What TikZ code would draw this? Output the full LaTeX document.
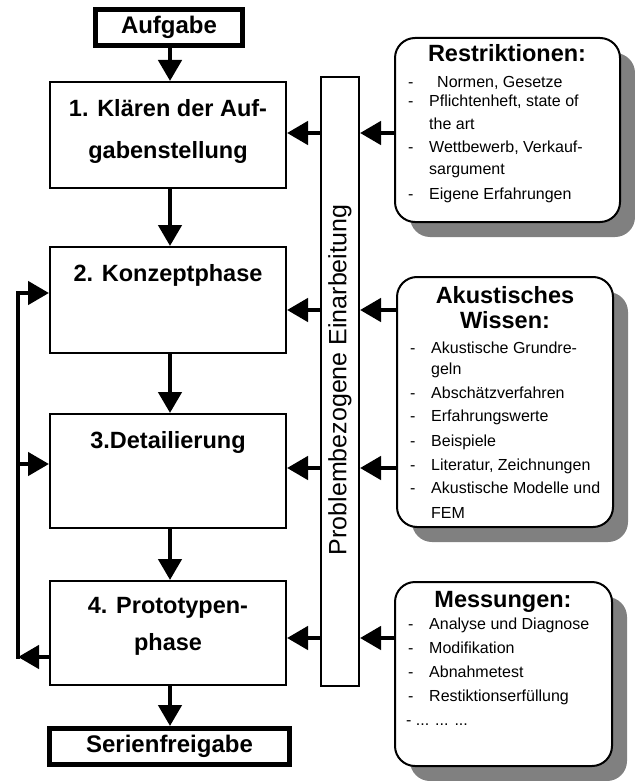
\documentclass[tikz,border=0pt]{standalone}
\usepackage{fontspec}
\setmainfont{Liberation Sans}
\usetikzlibrary{arrows.meta,shadows}
\definecolor{shadowgray}{RGB}{128,128,128}
\newcommand{\itm}[1]{\makebox[21pt][l]{-}#1}
\newcommand{\cnt}[1]{\hspace*{21pt}#1}
\begin{document}
\begin{tikzpicture}[x=1pt,y=-1pt,
  box/.style={draw,line width=2pt,inner sep=0pt},
  endbox/.style={draw,line width=5pt,inner sep=0pt,font=\fontsize{24}{24}\selectfont\bfseries},
  ttl/.style={font=\fontsize{23.5}{42}\selectfont\bfseries,align=center,inner sep=0pt},
  rbox/.style={draw,line width=2pt,rounded corners=20pt,fill=white,inner sep=0pt,
    drop shadow={shadow xshift=15pt,shadow yshift=-15pt,fill=shadowgray,opacity=1}},
  itemtxt/.style={anchor=west,font=\fontsize{16}{16}\selectfont,inner sep=0pt},
  flow/.style={line width=4.5pt,-{Triangle[length=21pt,width=23pt]}},
  plain/.style={line width=4.5pt}]
\useasboundingbox (0,0) rectangle (634,781);

% start / end
\node[endbox,minimum width=147pt,minimum height=36pt] (auf) at (169,27.5) {Aufgabe};
\node[endbox,minimum width=240pt,minimum height=36pt] (ser) at (169.5,746.5) {Serienfreigabe};

% phase boxes
\node[box,minimum width=236pt,minimum height=106pt] (k1) at (168,135) {};
\node[ttl] (t1) at (168,131) {1. Klären der Auf-\\gabenstellung};
\node[box,minimum width=236pt,minimum height=106pt] (k2) at (168,300) {};
\node[ttl] (t2) at (168,275) {2. Konzeptphase};
\node[box,minimum width=236pt,minimum height=114pt] (k3) at (168,471) {};
\node[ttl] (t3) at (168,442) {3.Detailierung};
\node[box,minimum width=236pt,minimum height=104pt] (k4) at (168,633) {};
\node[ttl,font=\fontsize{23.5}{37}\selectfont\bfseries] (t4) at (168,626.5) {4. Prototypen-\\phase};

% vertical bar
\node[box,minimum width=38pt,minimum height=609pt] (bar) at (340,381.5) {};
\node[rotate=90,font=\fontsize{25}{25}\selectfont,inner sep=0pt] (bt) at (340,380) {Problembezogene Einarbeitung};

% right boxes
\node[rbox,minimum width=225pt,minimum height=184pt] (R) at (507.5,130) {};
\node[ttl] (Rt) at (507,53) {Restriktionen:};
\node[itemtxt] (r1) at (408,83) {\itm{\hspace*{8pt}Normen, Gesetze}};
\node[itemtxt] (r2) at (408,102) {\itm{Pflichtenheft, state of}};
\node[itemtxt] (r3) at (408,124) {\cnt{the art}};
\node[itemtxt] (r4) at (408,148) {\itm{Wettbewerb, Verkauf-}};
\node[itemtxt] (r5) at (408,171) {\cnt{sargument}};
\node[itemtxt] (r6) at (408,195) {\itm{Eigene Erfahrungen}};

\node[rbox,minimum width=216pt,minimum height=250pt] (A) at (505,402) {};
\node[ttl,font=\fontsize{23.5}{25}\selectfont\bfseries] (At) at (505,307.5) {Akustisches\\Wissen:};
\node[itemtxt] (a1) at (410,348) {\itm{Akustische Grundre-}};
\node[itemtxt] (a2) at (410,370) {\cnt{geln}};
\node[itemtxt] (a3) at (410,393) {\itm{Abschätzverfahren}};
\node[itemtxt] (a4) at (410,417) {\itm{Erfahrungswerte}};
\node[itemtxt] (a5) at (410,442) {\itm{Beispiele}};
\node[itemtxt] (a6) at (410,466) {\itm{Literatur, Zeichnungen}};
\node[itemtxt] (a7) at (410,488) {\itm{Akustische Modelle und}};
\node[itemtxt] (a8) at (410,513) {\cnt{FEM}};

\node[rbox,minimum width=217pt,minimum height=184pt] (M) at (503.5,674) {};
\node[ttl] (Mt) at (503,602) {Messungen:};
\node[itemtxt] (m1) at (408,625) {\itm{Analyse und Diagnose}};
\node[itemtxt] (m2) at (408,648) {\itm{Modifikation}};
\node[itemtxt] (m3) at (408,672) {\itm{Abnahmetest}};
\node[itemtxt] (m4) at (408,697) {\itm{Restiktionserfüllung}};
\node[itemtxt] (m5) at (406,723) {- ... ... ...};

% main flow (vertical at x = 170)
\coordinate (cx) at (170,0);
\draw[flow] (cx |- auf.south) -- (cx |- k1.north);
\draw[flow] (cx |- k1.south) -- (cx |- k2.north);
\draw[flow] (cx |- k2.south) -- (cx |- k3.north);
\draw[flow] (cx |- k3.south) -- (cx |- k4.north);
\draw[flow] (cx |- k4.south) -- (cx |- ser.north);

% level coordinates
\coordinate (y1) at (0,133);
\coordinate (y2) at (0,310);
\coordinate (y3) at (0,468);
\coordinate (y4) at (0,638);

% bar to boxes
\draw[flow] (bar.west |- y1) -- (k1.east |- y1);
\draw[flow] (bar.west |- y2) -- (k2.east |- y2);
\draw[flow] (bar.west |- y3) -- (k3.east |- y3);
\draw[flow] (bar.west |- y4) -- (k4.east |- y4);

% right boxes to bar
\draw[flow] (R.west |- y1) -- (bar.east |- y1);
\draw[flow] (A.west |- y2) -- (bar.east |- y2);
\draw[flow] (A.west |- y3) -- (bar.east |- y3);
\draw[flow] (M.west |- y4) -- (bar.east |- y4);

% feedback loop
\coordinate (L2) at (18,293);
\coordinate (L3) at (18,464);
\coordinate (L4) at (18,657);
\draw[flow] (k4.west |- L4) -- (L4);
\draw[plain,line cap=rect] (L4) -- (L2);
\draw[flow] (L2) -- (k2.west |- L2);
\draw[flow] (L3) -- (k3.west |- L3);
\end{tikzpicture}
\end{document}
